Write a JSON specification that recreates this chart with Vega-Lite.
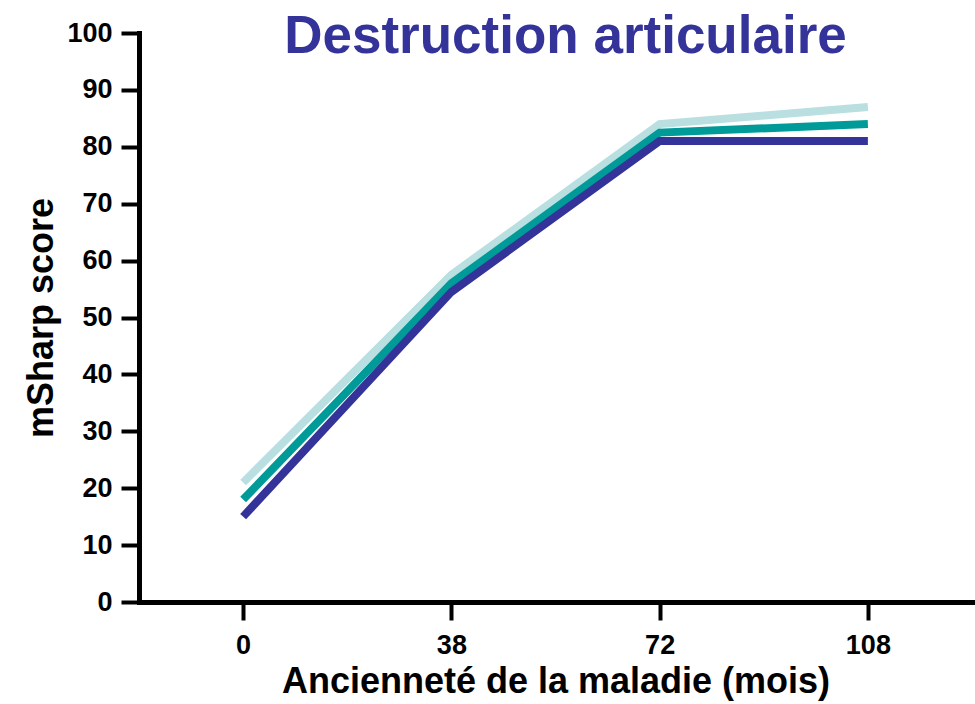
{
  "$schema": "https://vega.github.io/schema/vega-lite/v6.json",
  "autosize": "none",
  "width": 833,
  "height": 569,
  "padding": {"left": 139, "top": 33, "right": 3, "bottom": 102},
  "background": "white",
  "title": {
    "text": "Destruction articulaire",
    "font": "Liberation Sans",
    "fontWeight": "bold",
    "fontSize": 53,
    "color": "#333399",
    "anchor": "middle",
    "frame": "group",
    "dx": 10,
    "baseline": "alphabetic",
    "offset": -87
  },
  "data": {
    "values": [
      {"mois": "0", "score": 21, "serie": "s1"},
      {"mois": "38", "score": 57.5, "serie": "s1"},
      {"mois": "72", "score": 84, "serie": "s1"},
      {"mois": "108", "score": 87, "serie": "s1"},
      {"mois": "0", "score": 18, "serie": "s2"},
      {"mois": "38", "score": 56, "serie": "s2"},
      {"mois": "72", "score": 82.5, "serie": "s2"},
      {"mois": "108", "score": 84, "serie": "s2"},
      {"mois": "0", "score": 15, "serie": "s3"},
      {"mois": "38", "score": 54.5, "serie": "s3"},
      {"mois": "72", "score": 81, "serie": "s3"},
      {"mois": "108", "score": 81, "serie": "s3"}
    ]
  },
  "mark": {"type": "line", "strokeWidth": 8, "strokeCap": "butt", "strokeJoin": "miter"},
  "encoding": {
    "x": {
      "field": "mois",
      "type": "ordinal",
      "sort": ["0", "38", "72", "108"],
      "scale": {"type": "point", "padding": 0.5},
      "axis": {
        "title": "Ancienneté de la maladie (mois)",
        "labelAngle": 0,
        "labelPadding": 12,
        "titlePadding": 6
      }
    },
    "y": {
      "field": "score",
      "type": "quantitative",
      "scale": {"domain": [0, 100], "nice": false, "zero": true},
      "axis": {
        "title": "mSharp score",
        "values": [0, 10, 20, 30, 40, 50, 60, 70, 80, 90, 100],
        "titlePadding": 6,
        "labelPadding": 9
      }
    },
    "color": {
      "field": "serie",
      "type": "nominal",
      "scale": {"domain": ["s1", "s2", "s3"], "range": ["#b9dfe1", "#009b98", "#333399"]},
      "legend": null
    }
  },
  "config": {
    "view": {"stroke": null},
    "axis": {
      "grid": false,
      "domainColor": "black",
      "domainWidth": 5,
      "domainCap": "square",
      "tickColor": "black",
      "tickWidth": 4,
      "tickSize": 18,
      "labelFont": "Liberation Sans",
      "labelFontWeight": "bold",
      "labelFontSize": 27,
      "labelColor": "black",
      "titleFont": "Liberation Sans",
      "titleFontWeight": "bold",
      "titleFontSize": 36,
      "titleColor": "black",
      "labelPadding": 7
    }
  }
}
